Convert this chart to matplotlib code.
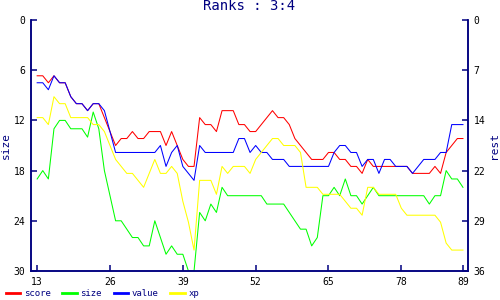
import matplotlib
matplotlib.use("Agg")
import matplotlib.pyplot as plt

# rangos por dia, eje x de 13 a 89
dias = list(range(13, 90))

# eje izquierdo (0-30)
size = [19, 18, 19, 13, 12, 12, 13, 13, 13, 14, 11, 13, 18, 21, 24, 24, 25, 26, 26, 27,
        27, 24, 26, 28, 27, 28, 28, 30, 30, 23, 24, 22, 23, 20, 21, 21, 21, 21, 21, 21,
        21, 22, 22, 22, 22, 23, 24, 25, 25, 27, 26, 21, 21, 20, 21, 19, 21, 21, 22, 21,
        20, 21, 21, 21, 21, 21, 21, 21, 21, 21, 22, 21, 21, 18, 19, 19, 20]

# eje derecho "rest" (0-36)
score = [8, 8, 9, 8, 9, 9, 11, 12, 12, 13, 12, 12, 14, 16, 18, 17, 17, 16, 17, 17,
         16, 16, 16, 18, 16, 18, 20, 21, 21, 14, 15, 15, 16, 13, 13, 13, 15, 15, 16, 16,
         15, 14, 13, 14, 14, 15, 17, 18, 19, 20, 20, 20, 19, 19, 20, 20, 21, 21, 22, 20,
         21, 21, 21, 21, 21, 21, 21, 22, 22, 22, 22, 21, 22, 19, 18, 17, 17]
value = [9, 9, 10, 8, 9, 9, 11, 12, 12, 13, 12, 12, 13, 16, 19, 19, 19, 19, 19, 19,
         19, 19, 18, 21, 19, 18, 21, 22, 23, 18, 19, 19, 19, 19, 19, 19, 17, 17, 19, 18,
         19, 19, 20, 20, 20, 21, 21, 21, 21, 21, 21, 21, 21, 19, 18, 18, 19, 19, 21, 20,
         20, 22, 20, 20, 21, 21, 21, 22, 21, 20, 20, 20, 19, 19, 15, 15, 15]
xp = [14, 14, 15, 11, 12, 12, 14, 14, 14, 14, 15, 15, 16, 18, 20, 21, 22, 22, 23, 24,
      22, 20, 22, 22, 21, 22, 26, 29, 33, 23, 23, 23, 25, 21, 22, 21, 21, 21, 22, 20,
      19, 18, 17, 17, 18, 18, 18, 19, 24, 24, 24, 25, 25, 25, 25, 26, 27, 27, 28, 24,
      24, 25, 25, 25, 25, 27, 28, 28, 28, 28, 28, 28, 29, 32, 33, 33, 33]

xticks = [13, 26, 39, 52, 65, 78, 89]
left_ticks = [0, 6, 12, 18, 24, 30]
right_ticks = [0, 7.2, 14.4, 21.6, 28.8, 36]
right_labels = ["0", "7", "14", "22", "29", "36"]

navy = "#000080"
plt.rcParams["font.family"] = "DejaVu Sans Mono"

fig = plt.figure(figsize=(5, 3), dpi=100)
ax = fig.add_axes([0.062, 0.0967, 0.874, 0.8366])
ax2 = ax.twinx()

lw = 0.75  # lineas finas
l_size, = ax.plot(dias, size, color="#00ff00", lw=lw, label="size")
l_score, = ax2.plot(dias, score, color="#ff0000", lw=lw, label="score")
l_value, = ax2.plot(dias, value, color="#0000ff", lw=lw, label="value")
l_xp, = ax2.plot(dias, xp, color="#ffff00", lw=lw, label="xp")

ax.set_xlim(11.9, 89.9)
ax.set_ylim(30, 0)
ax2.set_ylim(36, 0)
ax.set_xticks(xticks)
ax.set_yticks(left_ticks)
ax2.set_yticks(right_ticks)
ax2.set_yticklabels(right_labels)

for a in (ax, ax2):
    a.spines["top"].set_visible(False)
    for s in ("left", "right", "bottom"):
        a.spines[s].set_color(navy)
        a.spines[s].set_linewidth(1.1)
    a.tick_params(direction="in", length=4, width=1.1, color=navy,
                  labelsize=7, labelcolor="black", pad=4)

ax.set_ylabel("size", color=navy, fontsize=8, labelpad=2)
ax2.set_ylabel("rest", color=navy, fontsize=8, labelpad=3)
ax.set_title("Ranks : 3:4", color=navy, fontsize=10, pad=7)

leg = fig.legend([l_score, l_size, l_value, l_xp], ["score", "size", "value", "xp"],
                 loc="lower left", bbox_to_anchor=(-0.005, -0.02), ncol=4, frameon=False,
                 fontsize=6.5, handlelength=1.6, handletextpad=0.4, columnspacing=1.3)
for t in leg.get_texts():
    t.set_color(navy)
for h in leg.legend_handles:
    h.set_linewidth(2)

fig.savefig("out.png", dpi=100)
